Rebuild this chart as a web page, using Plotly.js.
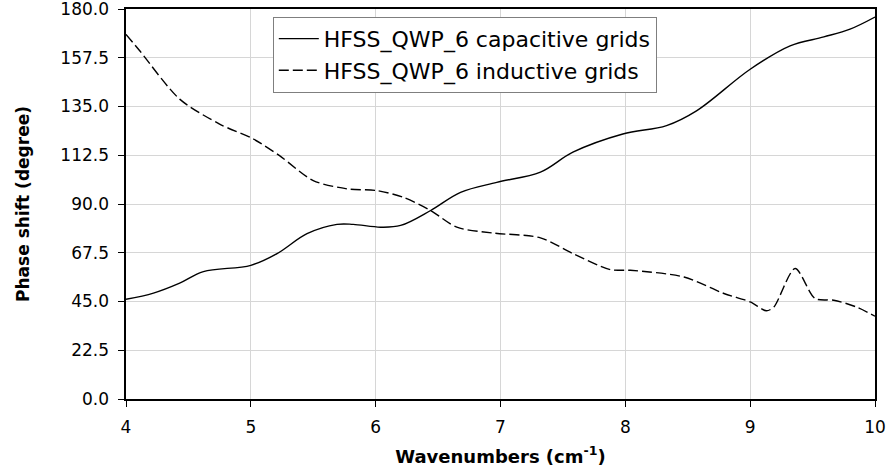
<!DOCTYPE html>
<html>
<head>
<meta charset="utf-8">
<script src="https://cdn.plot.ly/plotly-3.0.1.min.js"></script>
<style>
html,body{margin:0;padding:0;background:#fff;}
#chart{width:889px;height:474px;}
</style>
</head>
<body>
<div id="chart"></div>
<script>
const capX = [4.00, 4.22, 4.43, 4.62, 5.00, 5.21, 5.45, 5.69, 5.82, 6.04, 6.20, 6.44, 6.68, 6.97, 7.32, 7.58, 7.98, 8.33, 8.57, 9.00, 9.32, 9.59, 9.80, 10.00];
const capY = [46.0, 48.9, 53.5, 58.8, 61.7, 67.1, 76.3, 80.6, 80.6, 79.3, 80.1, 87.0, 95.4, 100.0, 104.7, 113.9, 122.3, 126.2, 133.0, 152.2, 163.0, 167.1, 170.7, 176.3];
const indX = [4.00, 4.11, 4.43, 4.75, 5.02, 5.23, 5.50, 5.77, 6.01, 6.22, 6.44, 6.65, 6.94, 7.32, 7.58, 7.88, 8.04, 8.47, 8.79, 9.00, 9.13, 9.19, 9.36, 9.52, 9.67, 9.85, 10.00];
const indY = [168.3, 160.7, 138.4, 126.9, 120.0, 112.3, 100.8, 97.0, 96.2, 93.1, 87.0, 79.3, 76.6, 74.4, 67.1, 59.7, 59.4, 56.3, 48.7, 44.8, 40.7, 42.5, 60.2, 46.4, 45.6, 42.5, 38.2];
const yTickVals = [0, 22.5, 45, 67.5, 90, 112.5, 135, 157.5, 180];
const yTickText = ["0.0", "22.5", "45.0", "67.5", "90.0", "112.5", "135.0", "157.5", "180.0"];
const xTickVals = [4, 5, 6, 7, 8, 9, 10];
const capName = "HFSS_QWP_6 capacitive grids";
const indName = "HFSS_QWP_6 inductive grids";
const xTitle = "Wavenumbers (cm<sup>-1</sup>)";
const yTitle = "Phase shift (degree)";

const traces = [
  {x: capX, y: capY, name: capName, mode: 'lines', legendgroup: 'a',
   line: {color: '#000', width: 1.4, shape: 'spline', smoothing: 1}},
  {x: indX, y: indY, name: indName, mode: 'lines', legendgroup: 'b',
   line: {color: '#000', width: 1.4, shape: 'spline', smoothing: 0.8, dash: '10px,4px'}}
];

const layout = {
  width: 889, height: 474,
  margin: {l: 126, r: 14, t: 9, b: 75, pad: 0},
  paper_bgcolor: '#fff', plot_bgcolor: '#fff',
  font: {family: 'DejaVu Sans, sans-serif', color: '#000'},
  showlegend: true,
  legend: {
    x: 0.196, xanchor: 'left', y: 0.98, yanchor: 'top',
    bgcolor: '#fff', bordercolor: '#7f7f7f', borderwidth: 1,
    font: {family: 'DejaVu Sans, sans-serif', size: 22, color: '#000'},
    traceorder: 'grouped', tracegroupgap: 0, itemwidth: 40
  },
  xaxis: {
    range: [4, 10], tickmode: 'array', tickvals: xTickVals,
    showgrid: true, gridcolor: '#d6d6d6', gridwidth: 1,
    showline: true, linecolor: '#000', linewidth: 1.6, mirror: true,
    ticks: 'outside', ticklen: 6, tickcolor: '#000', tickwidth: 1,
    ticklabelstandoff: 6, ticklabeloverflow: 'allow',
    tickfont: {size: 17, family: 'DejaVu Sans, sans-serif'},
    zeroline: false, automargin: false,
    title: {text: xTitle, font: {size: 18, family: 'DejaVu Sans, sans-serif', weight: 'bold'}, standoff: 14}
  },
  yaxis: {
    range: [0, 180], tickmode: 'array', tickvals: yTickVals, ticktext: yTickText,
    showgrid: true, gridcolor: '#d6d6d6', gridwidth: 1,
    showline: true, linecolor: '#000', linewidth: 1.6, mirror: true,
    ticks: 'outside', ticklen: 6, tickcolor: '#000', tickwidth: 1,
    ticklabelstandoff: 6, ticklabeloverflow: 'allow',
    tickfont: {size: 17, family: 'DejaVu Sans, sans-serif'},
    zeroline: false, automargin: false,
    title: {text: yTitle, font: {size: 17, family: 'DejaVu Sans, sans-serif', weight: 'bold'}, standoff: 26}
  }
};

Plotly.newPlot('chart', traces, layout, {staticPlot: true, displayModeBar: false});
</script>
</body>
</html>
